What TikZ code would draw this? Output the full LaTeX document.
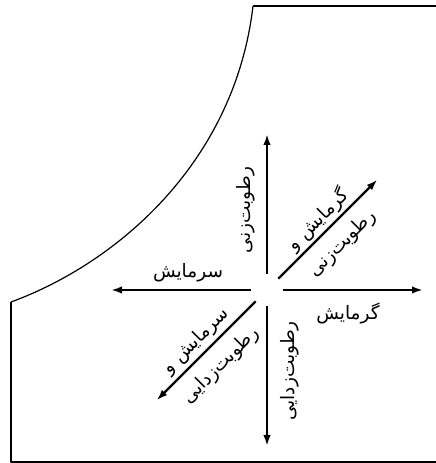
\documentclass[tikz,border=0pt]{standalone}
\usepackage{fontspec}
\usepackage{xcolor}
\usepackage{tikz}
\usetikzlibrary{arrows.meta,calc}
\newfontfamily\arabicfont[Script=Arabic]{DejaVu Sans}
\TeXXeTstate=1
\definecolor{chedge}{RGB}{0,0,0}
\newcommand{\fatext}[1]{\beginR #1\endR}
\tikzset{
  outline/.style={draw=chedge, line width=1.5pt},
  satcurve/.style={draw=chedge, line width=1.2pt},
  arr/.style={-{Latex[length=11pt,width=7.5pt]}, draw=chedge, line width=2.2pt},
  lbl/.style={font=\arabicfont\fontsize{18.5}{22}\selectfont, inner sep=0pt},
  every picture/.append style={line join=round}
}
\begin{document}
\begin{tikzpicture}[x=1pt, y=1pt]
  \useasboundingbox (0,0) rectangle (436,463);
  % chart outline and saturation curve
  \coordinate (sattop) at (253,457);
  \coordinate (satbot) at (11,161);
  \draw[outline] (436,457) -- (sattop);
  \draw[satcurve] (sattop) .. controls (235,303) and (120,201) .. (satbot);
  \draw[outline] (satbot) -- (11,1.2) -- (436,1.2);
  % process arrows
  \coordinate (o) at (267,173);
  \foreach \ang/\dir in {0/e, 45/ne, 90/n, 180/w, 225/sw, 270/s} {
    \coordinate (\dir0) at ($(o)+(\ang:16)$);
    \coordinate (\dir1) at ($(o)+(\ang:156)$);
    \draw[arr] (\dir0) -- (\dir1);
  }
  \coordinate (nemid) at ($(o)+(45:86)$);
  \coordinate (swmid) at ($(o)+(225:86)$);
  % labels
  \node[lbl, rotate=90] (hum) at ($(o)+(-21,80)$) {\fatext{رطوبت‌زنی}};
  \node[lbl, rotate=90] (dehum) at ($(o)+(23,-81)$) {\fatext{رطوبت‌زدایی}};
  \node[lbl] (cool) at ($(o)+(-79,17)$) {\fatext{سرمایش}};
  \node[lbl] (heat) at ($(o)+(81,-23)$) {\fatext{گرمایش}};
  \node[lbl, rotate=45] (heathum) at ($(nemid)+(135:14)$) {\fatext{گرمایش و}};
  \node[lbl, rotate=45] (heathum2) at ($(nemid)+(315:21)$) {\fatext{رطوبت‌زنی}};
  \node[lbl, rotate=45] (cooldry) at ($(swmid)+(135:14)$) {\fatext{سرمایش و}};
  \node[lbl, rotate=45] (cooldry2) at ($(swmid)+(315:21)$) {\fatext{رطوبت‌زدایی}};
\end{tikzpicture}
\end{document}
